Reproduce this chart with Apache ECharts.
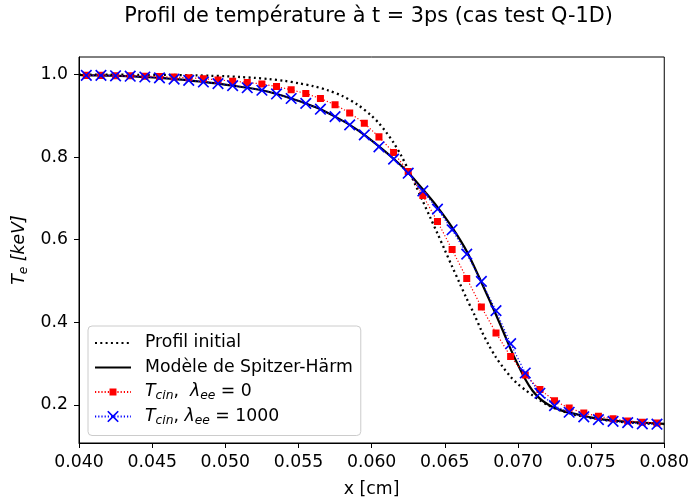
<!DOCTYPE html>
<html><head><meta charset="utf-8">
<script src="https://cdn.jsdelivr.net/npm/echarts@6/dist/echarts.min.js"></script>
<style>html,body{margin:0;padding:0;background:#fff}#c{width:692px;height:503px}</style>
</head><body><div id="c"></div>
<script>
// x positions of the markers (cell centres)
const xMarkers = [0.0405,0.0415,0.0425,0.0435,0.0445,0.0455,0.0465,0.0475,0.0485,0.0495,
  0.0505,0.0515,0.0525,0.0535,0.0545,0.0555,0.0565,0.0575,0.0585,0.0595,
  0.0605,0.0615,0.0625,0.0635,0.0645,0.0655,0.0665,0.0675,0.0685,0.0695,
  0.0705,0.0715,0.0725,0.0735,0.0745,0.0755,0.0765,0.0775,0.0785,0.0795];
// T_cin, lambda_ee = 0 (red squares)
const tCin0 = [0.998,0.998,0.997,0.997,0.996,0.995,0.994,0.992,0.990,0.987,
  0.984,0.981,0.977,0.971,0.963,0.954,0.942,0.927,0.907,0.882,
  0.849,0.811,0.765,0.707,0.644,0.576,0.506,0.437,0.374,0.317,
  0.272,0.237,0.210,0.192,0.180,0.172,0.166,0.161,0.158,0.156];
// T_cin, lambda_ee = 1000 (blue crosses)
const tCin1000 = [0.998,0.998,0.997,0.996,0.994,0.992,0.989,0.986,0.982,0.978,
  0.973,0.968,0.962,0.953,0.942,0.930,0.916,0.898,0.878,0.854,
  0.825,0.795,0.761,0.718,0.674,0.624,0.565,0.499,0.428,0.348,
  0.277,0.228,0.198,0.182,0.171,0.164,0.160,0.157,0.154,0.153];
// Spitzer-Härm model (solid black line)
const xSH = [0.040,0.0405,0.0415,0.0425,0.0435,0.0445,0.0455,0.0465,0.0475,0.0485,0.0495,
  0.0505,0.0515,0.0525,0.0535,0.0545,0.0555,0.0565,0.0575,0.0585,0.0595,
  0.0605,0.0615,0.0625,0.0635,0.0645,0.0655,0.0665,0.0675,0.0685,0.069,0.0695,
  0.070,0.0705,0.071,0.0715,0.072,0.0725,0.073,0.0735,0.0745,0.0755,0.0765,0.0775,0.0785,0.0795,0.080];
const tSH = [0.999,0.998,0.998,0.997,0.996,0.994,0.992,0.989,0.986,0.982,0.978,
  0.973,0.968,0.962,0.953,0.942,0.930,0.916,0.898,0.878,0.854,
  0.826,0.796,0.763,0.722,0.679,0.630,0.572,0.497,0.418,0.377,0.335,
  0.297,0.262,0.234,0.215,0.202,0.193,0.186,0.181,0.173,0.166,0.162,0.159,0.157,0.155,0.154];
// Initial profile (dotted black line)
const xInit = [0.040,0.042,0.044,0.046,0.048,0.049,0.050,0.051,0.052,0.053,0.054,0.055,
  0.056,0.057,0.058,0.059,0.060,0.0605,0.061,0.0615,0.062,0.0625,0.063,0.0635,0.064,0.0645,
  0.065,0.0655,0.066,0.0665,0.067,0.0675,0.068,0.0685,0.069,0.0695,0.070,0.0705,0.071,0.0715,
  0.072,0.073,0.074,0.075,0.076,0.077,0.078,0.079,0.080];
const tInit = [1.000,1.000,0.999,0.999,0.998,0.997,0.996,0.994,0.992,0.989,0.985,0.979,
  0.972,0.962,0.948,0.928,0.900,0.882,0.860,0.835,0.805,0.770,0.732,0.693,0.654,0.615,
  0.575,0.535,0.496,0.457,0.420,0.380,0.345,0.315,0.290,0.268,0.250,0.236,0.223,0.211,
  0.200,0.185,0.175,0.168,0.163,0.159,0.156,0.154,0.153];
// tick labels
const xTicks = [0.040,0.045,0.050,0.055,0.060,0.065,0.070,0.075,0.080];
const yTicks = [0.2,0.4,0.6,0.8,1.0];

const FONT = 'DejaVu Sans';
const FS = 17.3;
const crossPath = 'path://M0,1 L1,0 L5,4 L9,0 L10,1 L6,5 L10,9 L9,10 L5,6 L1,10 L0,9 L4,5 Z';
// square with invisible corner specks so it scales like the cross
const squarePath = 'path://M2,2 L8,2 L8,8 L2,8 Z M0,0 L0.01,0 L0,0.01 Z M10,10 L9.99,10 L10,9.99 Z';
const pairs = (xs, ys) => xs.map((x, i) => [x, ys[i]]);

const rich = {
  n:  {fontFamily: FONT, fontSize: FS, lineHeight: 20, color: '#000'},
  it: {fontFamily: FONT, fontSize: FS, lineHeight: 20, fontStyle: 'italic', color: '#000'},
  sub:{fontFamily: FONT, fontSize: 12.3, lineHeight: 11, fontStyle: 'italic', color: '#000', verticalAlign: 'bottom'}
};
const legendLabels = {
  'Profil initial': '{n|Profil initial}',
  'Modèle de Spitzer-Härm': '{n|Modèle de Spitzer-Härm}',
  'Tcin0': '{it|T}{sub|cin}{n|,  }{it|λ}{sub|ee}{n| = 0}',
  'Tcin1000': '{it|T}{sub|cin}{n|, }{it|λ}{sub|ee}{n| = 1000}'
};

const chart = echarts.init(document.getElementById('c'), null, {renderer: 'canvas'});
chart.setOption({
  animation: false,
  backgroundColor: '#fff',
  textStyle: {fontFamily: FONT},
  title: {
    text: 'Profil de température à t = 3ps (cas test Q-1D)',
    left: 368.5, top: 6, textAlign: 'center', padding: 0,
    textStyle: {fontFamily: FONT, fontSize: 20.8, fontWeight: 'normal', color: '#000'}
  },
  grid: {left: 79, right: 24, top: 57, bottom: 59, show: true, borderColor: '#000', borderWidth: 1, backgroundColor: 'transparent'},
  legend: {
    left: 88, top: 326, orient: 'vertical',
    itemWidth: 36, itemHeight: 14.5, itemGap: 4.5,
    padding: [7, 8, 9, 6],
    backgroundColor: 'rgba(255,255,255,0.85)',
    borderColor: '#cccccc', borderWidth: 1, borderRadius: 4,
    data: ['Profil initial', 'Modèle de Spitzer-Härm', 'Tcin0', 'Tcin1000'],
    formatter: name => legendLabels[name],
    textStyle: {fontFamily: FONT, fontSize: FS, color: '#000', height: 20, lineHeight: 20,
      padding: [0, 0, 0, 9], rich: rich}
  },
  xAxis: {
    type: 'value', min: 0.04, max: 0.08, interval: 0.005,
    name: 'x [cm]', nameLocation: 'middle', nameGap: 38,
    nameTextStyle: {fontFamily: FONT, fontSize: FS, color: '#000'},
    axisLine: {show: true, lineStyle: {color: '#000', width: 1}},
    axisTick: {show: true, length: 5, inside: false, lineStyle: {color: '#000', width: 1}},
    axisLabel: {show: true, margin: 11, fontFamily: FONT, fontSize: FS, color: '#000',
      formatter: v => v.toFixed(3)},
    splitLine: {show: false}
  },
  yAxis: {
    type: 'value', min: 0.1075, max: 1.0425,
    name: '{it|T}{sub|e}{it| [keV]}', nameLocation: 'middle', nameGap: 46, nameRotate: 90,
    nameTextStyle: {fontFamily: FONT, fontSize: FS, color: '#000', rich: rich},
    axisLine: {show: true, lineStyle: {color: '#000', width: 1}},
    axisTick: {show: true, length: 5, inside: false, customValues: yTicks, lineStyle: {color: '#000', width: 1}},
    axisLabel: {show: true, margin: 11, fontFamily: FONT, fontSize: FS, color: '#000',
      customValues: yTicks, formatter: v => v.toFixed(1)},
    splitLine: {show: false}
  },
  series: [
    {
      name: 'Profil initial', type: 'line', data: pairs(xInit, tInit),
      showSymbol: false, symbol: 'none', smooth: 0.3,
      lineStyle: {color: '#000', width: 2.3, type: [2, 3.3], cap: 'butt'},
      itemStyle: {color: 'rgba(0,0,0,0)'}, z: 2
    },
    {
      name: 'Modèle de Spitzer-Härm', type: 'line', data: pairs(xSH, tSH),
      showSymbol: false, symbol: 'none', smooth: 0.25,
      lineStyle: {color: '#000', width: 2.2, type: 'solid'},
      itemStyle: {color: 'rgba(0,0,0,0)'}, z: 3
    },
    {
      name: 'Tcin0', type: 'line', data: pairs(xMarkers, tCin0),
      symbol: squarePath, symbolSize: 11.7, showAllSymbol: true,
      lineStyle: {color: '#ff0000', width: 1.2, type: [1.2, 2]},
      itemStyle: {color: '#ff0000', borderWidth: 0}, z: 4
    },
    {
      name: 'Tcin1000', type: 'line', data: pairs(xMarkers, tCin1000),
      symbol: crossPath, symbolSize: 11.7, showAllSymbol: true,
      lineStyle: {color: '#0000ff', width: 1.2, type: [1.2, 2]},
      itemStyle: {color: '#0000ff', borderWidth: 0}, z: 5
    }
  ]
});
</script></body></html>
